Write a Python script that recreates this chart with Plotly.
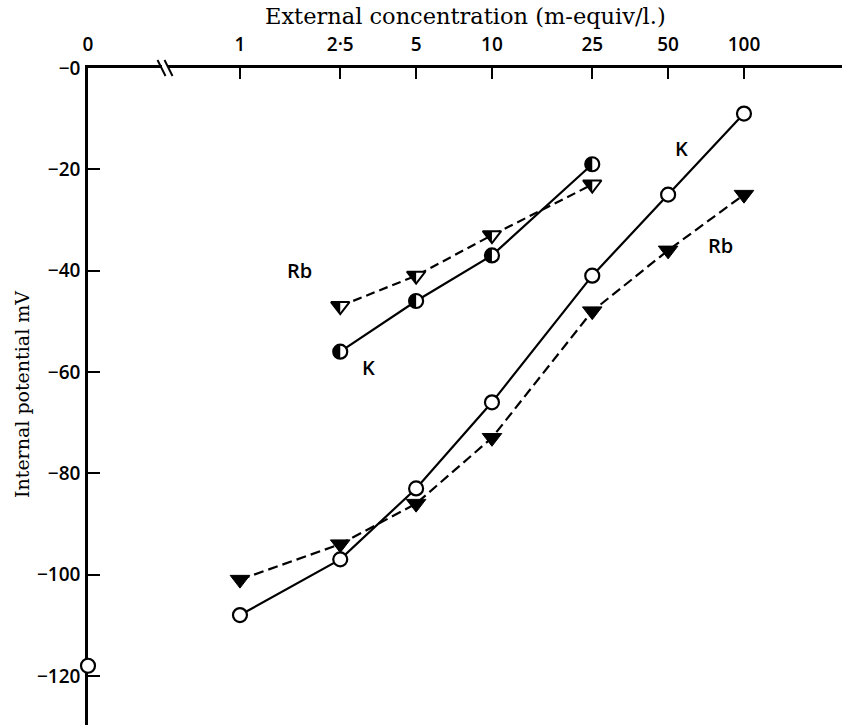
import math
import plotly.graph_objects as go

# ---- data -------------------------------------------------------------
conc_ticks = [0, 1, 2.5, 5, 10, 25, 50, 100]
conc_tick_labels = ["0", "1", "2·5", "5", "10", "25", "50", "100"]
pot_ticks = [0, -20, -40, -60, -80, -100, -120]
pot_tick_labels = ["−0", "−20", "−40", "−60", "−80", "−100", "−120"]

# open circles / filled triangles (lower pair of curves)
k_conc = [1, 2.5, 5, 10, 25, 50, 100]
k_pot = [-108, -97, -83, -66, -41, -25, -9]
k_zero_pot = [-118]          # potential at zero external concentration
rb_conc = [1, 2.5, 5, 10, 25, 50, 100]
rb_pot = [-101, -94, -86, -73, -48, -36, -25]

# half-filled circles / half-filled triangles (upper pair of curves)
k2_conc = [2.5, 5, 10, 25]
k2_pot = [-56, -46, -37, -19]
rb2_conc = [2.5, 5, 10, 25]
rb2_pot = [-47, -41, -33, -23]

# ---- axis geometry -----------------------------------------------------
# The concentration axis is logarithmic and broken near its left end;
# the "0" concentration is drawn at the start of the broken segment.
ZERO_POS = 10 ** -0.603
X_RANGE = [math.log10(ZERO_POS), 2.389]
Y_RANGE = [-129.7, 0]


def xpos(c):
    return ZERO_POS if c == 0 else c


INK = "black"
SANS = "'Open Sans', Lato, sans-serif"
SERIF = "'DejaVu Serif', serif"

fig = go.Figure()

# K, open circles, solid line
fig.add_trace(go.Scatter(
    x=k_conc, y=k_pot, mode="lines+markers",
    line=dict(color=INK, width=2.2),
    marker=dict(symbol="circle", size=14, color="white",
                line=dict(color=INK, width=2.2)),
    cliponaxis=False, showlegend=False))
fig.add_trace(go.Scatter(
    x=[xpos(0)] * len(k_zero_pot), y=k_zero_pot, mode="markers",
    marker=dict(symbol="circle", size=14, color="white",
                line=dict(color=INK, width=2.2)),
    cliponaxis=False, showlegend=False))

# Rb, filled triangles, dashed line
fig.add_trace(go.Scatter(
    x=rb_conc, y=rb_pot, mode="lines+markers",
    line=dict(color=INK, width=2.2, dash="10px,5px"),
    marker=dict(symbol="triangle-down", size=17, color=INK,
                line=dict(color=INK, width=1)),
    cliponaxis=False, showlegend=False))

# K, half-filled circles, solid line
fig.add_trace(go.Scatter(
    x=k2_conc, y=k2_pot, mode="lines+markers",
    line=dict(color=INK, width=2.2),
    marker=dict(symbol="circle", size=14, color="white",
                line=dict(color=INK, width=2.2)),
    cliponaxis=False, showlegend=False))

# Rb, half-filled triangles, dashed line
fig.add_trace(go.Scatter(
    x=rb2_conc, y=rb2_pot, mode="lines+markers",
    line=dict(color=INK, width=2.2, dash="9px,5px"),
    marker=dict(symbol="triangle-down", size=16, color="white",
                line=dict(color=INK, width=2)),
    cliponaxis=False, showlegend=False))


# left halves of the half-filled markers, as pixel-sized paths
def half_circle_path(r, n=24):
    pts = []
    for i in range(n + 1):
        a = math.pi / 2 + math.pi * i / n
        pts.append((r * math.cos(a), r * math.sin(a)))
    return "M " + " L ".join(f"{px:.2f},{py:.2f}" for px, py in pts) + " Z"


def half_triangle_path(size):
    r = size / 2
    rt = r * 2 / math.sqrt(3)
    return f"M {-rt:.2f},{r / 2:.2f} L 0,{r / 2:.2f} L 0,{-r:.2f} Z"


shapes = []
for c, v in zip(k2_conc, k2_pot):
    shapes.append(dict(type="path", xref="x", yref="y",
                       xsizemode="pixel", ysizemode="pixel",
                       xanchor=c, yanchor=v,
                       path=half_circle_path(7.2),
                       fillcolor=INK, line=dict(width=0)))
for c, v in zip(rb2_conc, rb2_pot):
    shapes.append(dict(type="path", xref="x", yref="y",
                       xsizemode="pixel", ysizemode="pixel",
                       xanchor=c, yanchor=v,
                       path=half_triangle_path(16),
                       fillcolor=INK, line=dict(width=0)))

# axis break marks on the concentration axis
brk_x = (165 - 88) / 754
shapes.append(dict(type="rect", xref="paper", yref="paper",
                   xsizemode="pixel", ysizemode="pixel",
                   xanchor=brk_x, yanchor=1,
                   x0=-3, x1=3, y0=-3, y1=3,
                   fillcolor="white", line=dict(width=0)))
for dx in (-3.5, 3.5):
    shapes.append(dict(type="line", xref="paper", yref="paper",
                       xsizemode="pixel", ysizemode="pixel",
                       xanchor=brk_x, yanchor=1,
                       x0=dx - 4, y0=8, x1=dx + 4, y1=-8,
                       line=dict(color=INK, width=2)))

annotations = [
    dict(text="External concentration (m-equiv/l.)", xref="paper", yref="paper",
         x=(465 - 88) / 754, y=1, yshift=52, yanchor="middle", xanchor="center",
         showarrow=False,
         font=dict(family=SERIF, size=22.5, color=INK)),
    dict(text="Internal potential mV", xref="paper", yref="paper",
         x=0, xshift=-66, y=(725 - 395) / 657, xanchor="center", yanchor="middle",
         textangle=-90, showarrow=False,
         font=dict(family=SERIF, size=19, color=INK)),
]
for txt, c, v in [("Rb", 1.73, -39.9), ("K", 3.25, -59.2),
                  ("K", 56.7, -15.8), ("Rb", 81, -35.1)]:
    annotations.append(dict(text=txt, x=math.log10(c), y=v, xref="x", yref="y",
                            showarrow=False,
                            font=dict(family=SANS, size=20, color=INK, weight=600)))

fig.update_layout(
    width=842, height=725,
    margin=dict(l=88, r=0, t=68, b=0, pad=0),
    paper_bgcolor="white", plot_bgcolor="white",
    shapes=shapes, annotations=annotations,
    xaxis=dict(type="log", range=X_RANGE, side="top",
               tickvals=[xpos(c) for c in conc_ticks], ticktext=conc_tick_labels,
               ticks="inside", ticklen=11, tickwidth=2, tickcolor=INK,
               showline=True, linecolor=INK, linewidth=2.5,
               showgrid=False, zeroline=False, layer="below traces",
               ticklabelstandoff=7,
               tickfont=dict(family=SANS, size=19, color=INK, weight=600)),
    yaxis=dict(range=Y_RANGE, tickvals=pot_ticks, ticktext=pot_tick_labels,
               ticks="inside", ticklen=12, tickwidth=2, tickcolor=INK,
               showline=True, linecolor=INK, linewidth=2.5,
               showgrid=False, zeroline=False, layer="below traces",
               ticklabelstandoff=1,
               tickfont=dict(family=SANS, size=19, color=INK, weight=600)),
)

fig.write_html("out.html")
